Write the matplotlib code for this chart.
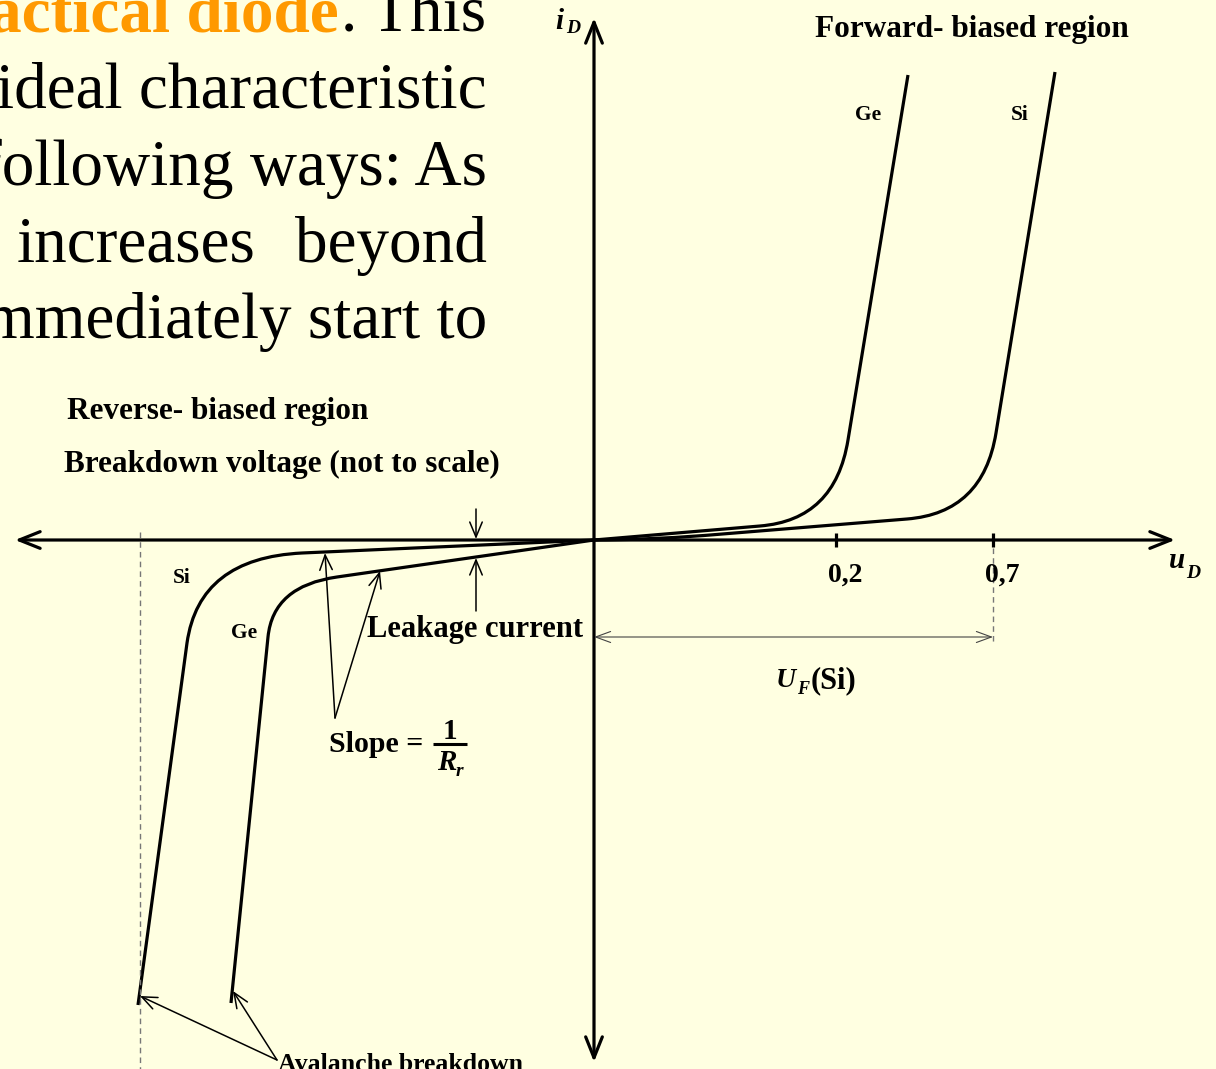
import matplotlib
matplotlib.use("Agg")
import matplotlib.pyplot as plt
from matplotlib.path import Path
from matplotlib.patches import PathPatch

# ---------------- data (schematic units, origin at the axes crossing) -------------
ge_fwd_x = [0, 166, 241, 254, 314]
ge_fwd_y = [0, 14, 20, 100, 465]
si_fwd_x = [0, 50, 110, 313, 389, 402, 461]
si_fwd_y = [0, 0, 4.5, 21, 27, 107, 468]
si_rev_x = [0, -292, -395, -407, -456]
si_rev_y = [0, -13, -18, -103, -465]
ge_rev_x = [0, -257, -321, -326, -363]
ge_rev_y = [0, -37, -46, -97, -463]

tick_pos = [242, 399]
tick_labels = ["0,2", "0,7"]
breakdown_x = -454          # dashed breakdown-voltage line
uf_si = 399                 # forward voltage of Si

paragraph = ["ideal characteristic", "following ways: As", "mmediately start to"]

# ---------------- figure ----------------
BG = "#FFFFE1"
fig = plt.figure(figsize=(12.16, 10.69), dpi=100)
fig.patch.set_facecolor(BG)
ax = fig.add_axes([0, 0, 1, 1])
ax.set_facecolor(BG)
ax.set_xlim(-594, 622)
ax.set_ylim(-529, 540)
ax.axis("off")

SERIF = ["Liberation Serif", "DejaVu Serif"]


def P(px, py):
    """layout helper: picture pixel -> axes units"""
    return px - 594, 540 - py


def txt(px, py, s, size=18, weight="bold", style="normal", ha="left", va="baseline", color="black"):
    x, y = P(px, py)
    ax.text(x, y, s, fontsize=size, fontweight=weight, fontstyle=style, ha=ha, va=va,
            color=color, family=SERIF)


def curve(xs, ys, codes):
    path = Path(list(zip(xs, ys)), codes)
    ax.add_patch(PathPatch(path, facecolor="none", edgecolor="black", lw=2.3,
                           capstyle="butt", joinstyle="round"))


M, L, C = Path.MOVETO, Path.LINETO, Path.CURVE3
curve(ge_fwd_x, ge_fwd_y, [M, L, C, C, L])
curve(si_fwd_x, si_fwd_y, [M, C, C, L, C, C, L])
curve(si_rev_x, si_rev_y, [M, L, C, C, L])
curve(ge_rev_x, ge_rev_y, [M, L, C, C, L])

# ---------------- axes with arrows ----------------
axis_style = dict(arrowstyle="<->,head_length=0.75,head_width=0.3", lw=2.3, color="black",
                  shrinkA=0, shrinkB=0, mutation_scale=20)
ax.annotate("", xy=(581, 0), xytext=(-579, 0), arrowprops=axis_style)
ax.annotate("", xy=(0, 522), xytext=(0, -522), arrowprops=axis_style)

for tp in tick_pos:
    ax.plot([tp, tp], [-7, 7], color="black", lw=2.3, solid_capstyle="butt")
for tp, tl in zip(tick_pos, tick_labels):
    ax.text(tp + 9, -42, tl, fontsize=20, fontweight="bold", ha="center", va="baseline",
            family=SERIF)

# dashed guide lines
ax.plot([breakdown_x, breakdown_x], [8, -529], color="#777777", lw=1, ls=(0, (4, 3)))
ax.plot([uf_si, uf_si], [-8, -103], color="#777777", lw=1, ls=(0, (4, 3)))

# ---------------- thin annotation arrows ----------------
thin = dict(arrowstyle="->,head_length=0.6,head_width=0.25", lw=1.1, color="black",
            shrinkA=0, shrinkB=0, mutation_scale=18)
ax.annotate("", xy=(-118, 1), xytext=(-118, 31), arrowprops=thin)      # breakdown marker
ax.annotate("", xy=(-118, -18), xytext=(-118, -71), arrowprops=thin)   # leakage current
ax.annotate("", xy=(-269, -13), xytext=(-259, -178), arrowprops=thin)  # slope (Si)
ax.annotate("", xy=(-214, -31), xytext=(-259, -178), arrowprops=thin)  # slope (Ge)
ax.annotate("", xy=(-454, -456), xytext=(-317, -520), arrowprops=thin)  # avalanche Si
ax.annotate("", xy=(-361, -451), xytext=(-317, -520), arrowprops=thin)  # avalanche Ge
dim = dict(arrowstyle="<->,head_length=0.6,head_width=0.22", lw=0.8, color="#444444",
           shrinkA=0, shrinkB=0, mutation_scale=18)
ax.annotate("", xy=(uf_si, -97), xytext=(0, -97), arrowprops=dim)

# ---------------- labels ----------------
LSIZE = 22.5
txt(815, 37, "Forward- biased region", size=LSIZE)
txt(67, 419, "Reverse- biased region", size=LSIZE)
txt(64, 472, "Breakdown voltage (not to scale)", size=LSIZE)
txt(367, 637, "Leakage current", size=22)
txt(855, 120, "Ge", size=15.5)
txt(1011, 120, "Si", size=15.5)
txt(173, 583, "Si", size=15.5)
txt(231, 638, "Ge", size=15.5)
txt(278, 1071, "Avalanche breakdown", size=18.5)

# axis names
txt(555, 29, "i", size=21, style="italic")
txt(566, 33, "D", size=14, style="italic")
txt(1169, 568, "u", size=21, style="italic")
txt(1186, 578, "D", size=14, style="italic")
txt(776, 687, "U", size=20, style="italic")
txt(797, 694, "F", size=13, style="italic")
txt(811, 688, "(Si)", size=22)

# slope = 1/R_r
txt(329, 752, "Slope =", size=21.5)
txt(450, 739, "1", size=21, ha="center")
ax.plot([P(433, 0)[0], P(467, 0)[0]], [P(0, 744)[1]] * 2, color="black", lw=2.2,
        solid_capstyle="butt")
txt(437, 770, "R", size=21, style="italic")
txt(456, 776, "r", size=14, style="italic")

# ---------------- paragraph fragment at top-left ----------------
PSIZE = 47
txt(339, 32, "actical diode", size=PSIZE, weight="bold", ha="right", color="#FF9900")
txt(341, 32, ".", size=PSIZE, weight="normal")
txt(487, 32, "This", size=PSIZE, weight="normal", ha="right")
txt(487, 108, paragraph[0], size=PSIZE, weight="normal", ha="right")
txt(487, 185, paragraph[1], size=PSIZE, weight="normal", ha="right")
txt(17, 262, "increases", size=PSIZE, weight="normal")
txt(487, 262, "beyond", size=PSIZE, weight="normal", ha="right")
txt(487, 338, paragraph[2], size=PSIZE, weight="normal", ha="right")

fig.savefig("out.png", dpi=100, facecolor=BG)
